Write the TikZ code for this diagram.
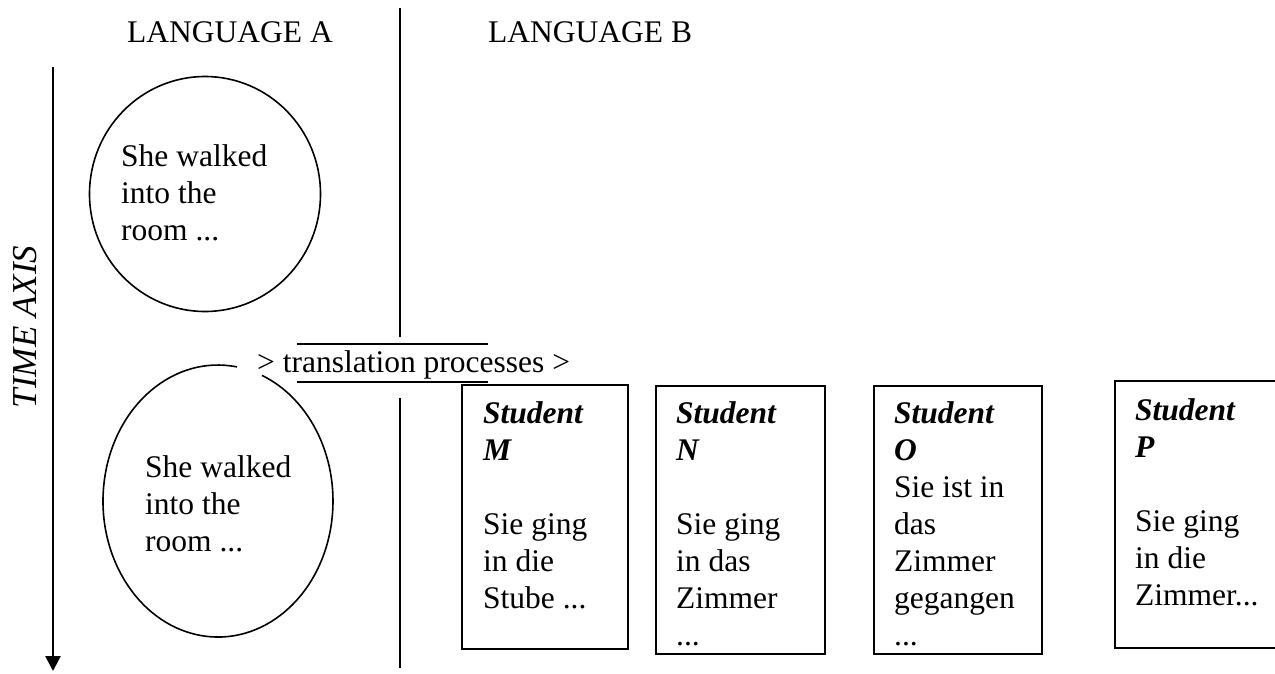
\documentclass[tikz,border=0pt]{standalone}
\usepackage{fontspec}
\setmainfont{Liberation Serif}
\usetikzlibrary{arrows.meta}
\begin{document}
\begin{tikzpicture}[x=1pt,y=-1pt,
  txt/.style={inner sep=0pt, font=\fontsize{31.5}{37}\selectfont, align=left},
  studentbox/.style={draw, line width=1.8pt, rectangle, inner sep=0pt, anchor=north west},
  thinline/.style={line width=1.6pt}]
\useasboundingbox (0,0) rectangle (1275,673);
% headers
\node[txt, anchor=base west] (langA) at (127,42) {LANGUAGE A};
\node[txt, anchor=base west] (langB) at (488,42) {LANGUAGE B};
% divider
\coordinate (d1) at (400,8);
\coordinate (d2) at (400,337);
\coordinate (d3) at (400,398);
\coordinate (d4) at (400,668);
\draw[thinline] (d1) -- (d2);
\draw[thinline] (d3) -- (d4);
% time axis
\coordinate (t1) at (53,67);
\coordinate (t2) at (53,671);
\draw[line width=2.6pt, -{Triangle[width=15pt,length=15pt]}] (t1) -- (t2);
\node[inner sep=0pt, rotate=90, font=\fontsize{35}{40}\selectfont\itshape] (axis) at (25,327) {TIME AXIS};
% upper circle
\coordinate (uc) at (205,194);
\draw[line width=1.6pt] (uc) ellipse [x radius=115.5pt, y radius=117.5pt];
\node[txt, anchor=north west] (utext) at (121,144) {She walked\\into the\\room ...};
% lower circle with gap
\coordinate (lc) at (218,501);
\draw[line width=1.6pt] (lc) ++(18.98pt,134.1pt) arc[start angle=80.5, end angle=427.5, x radius=115pt, y radius=136pt];
\node[txt, anchor=north west] (ltext) at (145,455) {She walked\\into the\\room ...};
% translation label
\node[txt, anchor=base west] (trans) at (257,372) {> translation processes >};
\coordinate (h1a) at (297,344);
\coordinate (h1b) at (488,344);
\coordinate (h2a) at (297,382);
\coordinate (h2b) at (488,382);
\draw[thinline] (h1a) -- (h1b);
\draw[thinline] (h2a) -- (h2b);
% student boxes
\node[studentbox, minimum width=166pt, minimum height=264pt] (M) at (461,384) {};
\node[studentbox, minimum width=169pt, minimum height=268pt] (N) at (655,385) {};
\node[studentbox, minimum width=168pt, minimum height=268pt] (O) at (873,385) {};
\node[studentbox, minimum width=175pt, minimum height=267pt] (P) at (1114,380) {};
\node[txt, anchor=north west] (Mt) at (483,401) {\textbf{\textit{Student}}\\\textbf{\textit{M}}\\[37pt]Sie ging\\in die\\Stube ...};
\node[txt, anchor=north west] (Nt) at (676,401) {\textbf{\textit{Student}}\\\textbf{\textit{N}}\\[37pt]Sie ging\\in das\\Zimmer\\...};
\node[txt, anchor=north west] (Ot) at (894,401) {\textbf{\textit{Student}}\\\textbf{\textit{O}}\\Sie ist in\\das\\Zimmer\\gegangen\\...};
\node[txt, anchor=north west] (Pt) at (1135,398) {\textbf{\textit{Student}}\\\textbf{\textit{P}}\\[37pt]Sie ging\\in die\\Zimmer...};
\end{tikzpicture}
\end{document}
